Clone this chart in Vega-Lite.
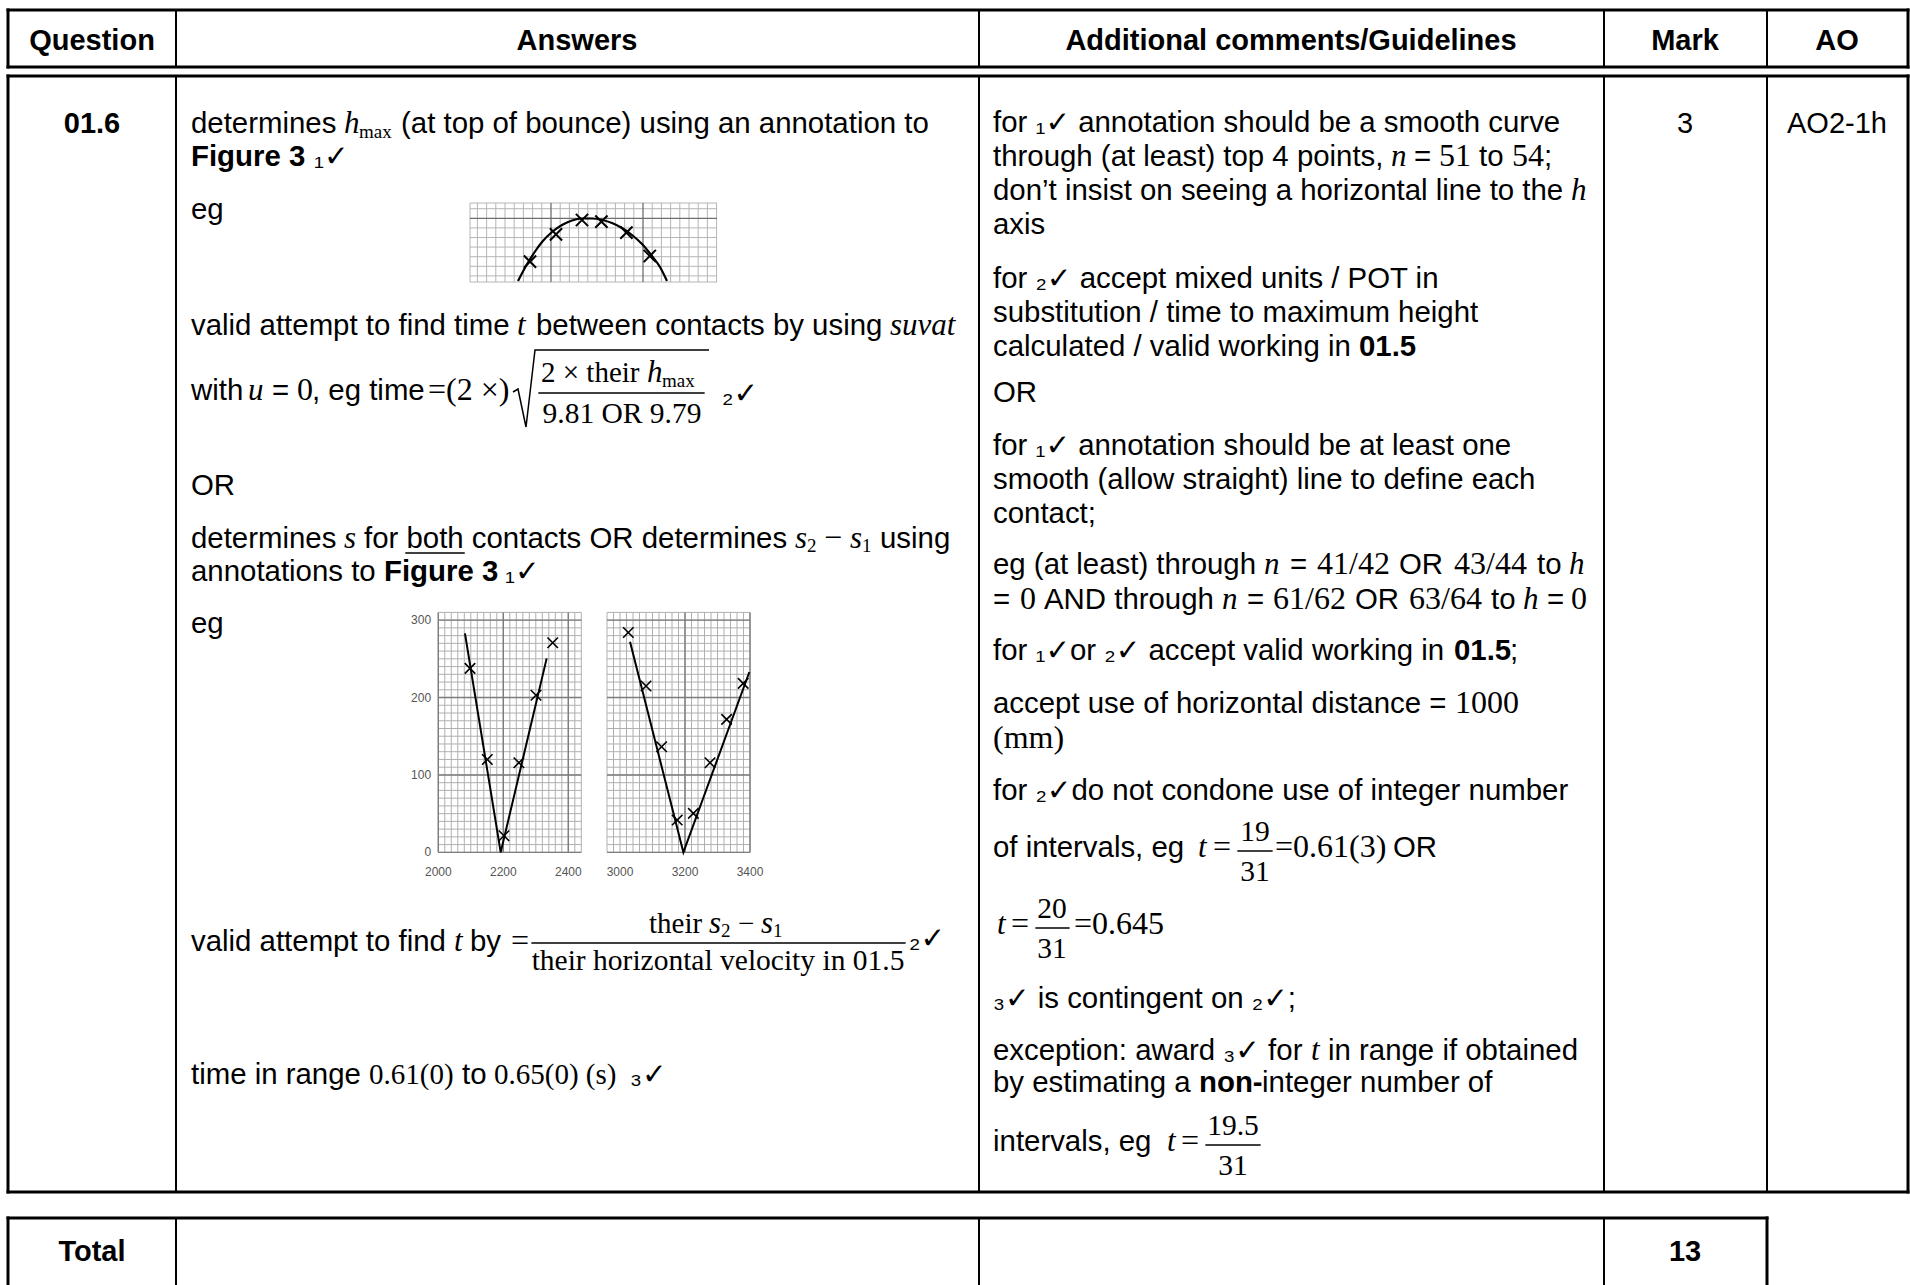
{
"$schema":"https://vega.github.io/schema/vega-lite/v6.json",
"width":1910,"height":1285,"autosize":{"type":"none"},"padding":0,"background":"white",
"config":{"view":{"stroke":null}},
"resolve":{"scale":{"x":"independent","y":"independent"}},
"datasets":{
"rl":[
{"x":8,"y":10,"x2":1908,"y2":10,"w":3},{"x":8,"y":67,"x2":1908,"y2":67,"w":3},{"x":8,"y":10,"x2":8,"y2":67,"w":3},{"x":1908,"y":10,"x2":1908,"y2":67,"w":3},
{"x":176,"y":10,"x2":176,"y2":67,"w":2},{"x":979,"y":10,"x2":979,"y2":67,"w":2},{"x":1604,"y":10,"x2":1604,"y2":67,"w":2},{"x":1767,"y":10,"x2":1767,"y2":67,"w":2},
{"x":8,"y":76,"x2":1908,"y2":76,"w":3},{"x":8,"y":1192,"x2":1908,"y2":1192,"w":3},{"x":8,"y":76,"x2":8,"y2":1192,"w":3},{"x":1908,"y":76,"x2":1908,"y2":1192,"w":3},
{"x":176,"y":76,"x2":176,"y2":1192,"w":2},{"x":979,"y":76,"x2":979,"y2":1192,"w":2},{"x":1604,"y":76,"x2":1604,"y2":1192,"w":2},{"x":1767,"y":76,"x2":1767,"y2":1192,"w":2},
{"x":8,"y":1218,"x2":1767,"y2":1218,"w":3},{"x":8,"y":1218,"x2":8,"y2":1290,"w":3},{"x":1767,"y":1218,"x2":1767,"y2":1290,"w":3},
{"x":176,"y":1218,"x2":176,"y2":1290,"w":2},{"x":979,"y":1218,"x2":979,"y2":1290,"w":2},{"x":1604,"y":1218,"x2":1604,"y2":1290,"w":2},
{"x":406,"y":553,"x2":464,"y2":553,"w":1.5},
{"x":539,"y":393,"x2":704,"y2":393,"w":1.3},
{"x":532,"y":943,"x2":905,"y2":943,"w":1.3},
{"x":1238,"y":851,"x2":1272,"y2":851,"w":1.3},
{"x":1036,"y":928,"x2":1069,"y2":928,"w":1.3},
{"x":1206,"y":1145,"x2":1260,"y2":1145,"w":1.3}
],
"txt":[
{"x":92,"y":50,"t":"Question","s":"bc"},
{"x":577,"y":50,"t":"Answers","s":"bc"},
{"x":1291,"y":50,"t":"Additional comments/Guidelines","s":"bc"},
{"x":1685,"y":50,"t":"Mark","s":"bc"},
{"x":1837,"y":50,"t":"AO","s":"bc"},
{"x":92,"y":133,"t":"01.6","s":"bc"},
{"x":1685,"y":133,"t":"3","s":"rc"},
{"x":1837,"y":133,"t":"AO2-1h","s":"rc"},
{"x":92,"y":1261,"t":"Total","s":"bc"},
{"x":1685,"y":1261,"t":"13","s":"bc"},
{"x":191,"y":133,"t":"determines","s":"r"},
{"x":344,"y":133,"t":"h","s":"i"},
{"x":359,"y":138,"t":"max","s":"ms"},
{"x":401,"y":133,"t":"(at top of bounce) using an annotation to","s":"r"},
{"x":191,"y":166,"t":"Figure 3","s":"b"},
{"x":314,"y":166,"t":"₁✓","s":"r"},
{"x":191,"y":219,"t":"eg","s":"r"},
{"x":191,"y":335,"t":"valid attempt to find time","s":"r"},
{"x":517,"y":335,"t":"t","s":"i"},
{"x":536,"y":335,"t":"between contacts by using","s":"r"},
{"x":890,"y":335,"t":"suvat","s":"i"},
{"x":191,"y":400,"t":"with","s":"r"},
{"x":248,"y":400,"t":"u","s":"i"},
{"x":272,"y":400,"t":"=","s":"r"},
{"x":297,"y":400,"t":"0","s":"m"},
{"x":312,"y":400,"t":", eg time","s":"r"},
{"x":428,"y":400,"t":"=","s":"m"},
{"x":446,"y":400,"t":"(2 ×)","s":"m"},
{"x":541,"y":382,"t":"2 × their","s":"mf"},
{"x":647,"y":382,"t":"h","s":"i"},
{"x":662,"y":387,"t":"max","s":"ms"},
{"x":622,"y":423,"t":"9.81 OR 9.79","s":"mc"},
{"x":722,"y":403,"t":"₂✓","s":"r"},
{"x":191,"y":495,"t":"OR","s":"r"},
{"x":191,"y":548,"t":"determines","s":"r"},
{"x":344,"y":548,"t":"s","s":"i"},
{"x":364,"y":548,"t":"for both contacts OR determines","s":"r"},
{"x":795,"y":548,"t":"s","s":"i"},
{"x":807,"y":552,"t":"2","s":"ms"},
{"x":824,"y":548,"t":"−","s":"m"},
{"x":850,"y":548,"t":"s","s":"i"},
{"x":862,"y":552,"t":"1","s":"ms"},
{"x":880,"y":548,"t":"using","s":"r"},
{"x":191,"y":581,"t":"annotations to","s":"r"},
{"x":384,"y":581,"t":"Figure 3","s":"b"},
{"x":505,"y":581,"t":"₁✓","s":"r"},
{"x":191,"y":633,"t":"eg","s":"r"},
{"x":191,"y":951,"t":"valid attempt to find","s":"r"},
{"x":454,"y":951,"t":"t","s":"i"},
{"x":470,"y":951,"t":"by","s":"r"},
{"x":511,"y":951,"t":"=","s":"m"},
{"x":649,"y":933,"t":"their","s":"mf"},
{"x":709,"y":933,"t":"s","s":"i"},
{"x":721,"y":937,"t":"2","s":"ms"},
{"x":738,"y":933,"t":"−","s":"mf"},
{"x":761,"y":933,"t":"s","s":"i"},
{"x":773,"y":937,"t":"1","s":"ms"},
{"x":718,"y":970,"t":"their horizontal velocity in 01.5","s":"mc"},
{"x":909,"y":948,"t":"₂✓","s":"r"},
{"x":191,"y":1084,"t":"time in range","s":"r"},
{"x":369,"y":1084,"t":"0.61(0)","s":"mf"},
{"x":462,"y":1084,"t":"to","s":"r"},
{"x":494,"y":1084,"t":"0.65(0) (s)","s":"mf"},
{"x":630,"y":1084,"t":"₃✓","s":"r"},
{"x":993,"y":132,"t":"for ₁✓ annotation should be a smooth curve","s":"r"},
{"x":993,"y":166,"t":"through (at least) top 4 points,","s":"r"},
{"x":1391,"y":166,"t":"n","s":"i"},
{"x":1414,"y":166,"t":"=","s":"r"},
{"x":1439,"y":166,"t":"51","s":"m"},
{"x":1479,"y":166,"t":"to","s":"r"},
{"x":1512,"y":166,"t":"54","s":"m"},
{"x":1544,"y":166,"t":";","s":"r"},
{"x":993,"y":200,"t":"don’t insist on seeing a horizontal line to the","s":"r"},
{"x":1571,"y":200,"t":"h","s":"i"},
{"x":993,"y":234,"t":"axis","s":"r"},
{"x":993,"y":288,"t":"for ₂✓ accept mixed units / POT in","s":"r"},
{"x":993,"y":322,"t":"substitution / time to maximum height","s":"r"},
{"x":993,"y":356,"t":"calculated / valid working in","s":"r"},
{"x":1359,"y":356,"t":"01.5","s":"b"},
{"x":993,"y":402,"t":"OR","s":"r"},
{"x":993,"y":455,"t":"for ₁✓ annotation should be at least one","s":"r"},
{"x":993,"y":489,"t":"smooth (allow straight) line to define each","s":"r"},
{"x":993,"y":523,"t":"contact;","s":"r"},
{"x":993,"y":574,"t":"eg (at least) through","s":"r"},
{"x":1264,"y":574,"t":"n","s":"i"},
{"x":1290,"y":574,"t":"=","s":"r"},
{"x":1317,"y":574,"t":"41/42","s":"m"},
{"x":1399,"y":574,"t":"OR","s":"r"},
{"x":1454,"y":574,"t":"43/44","s":"m"},
{"x":1537,"y":574,"t":"to","s":"r"},
{"x":1569,"y":574,"t":"h","s":"i"},
{"x":993,"y":609,"t":"=","s":"r"},
{"x":1020,"y":609,"t":"0","s":"m"},
{"x":1044,"y":609,"t":"AND through","s":"r"},
{"x":1222,"y":609,"t":"n","s":"i"},
{"x":1247,"y":609,"t":"=","s":"r"},
{"x":1273,"y":609,"t":"61/62","s":"m"},
{"x":1355,"y":609,"t":"OR","s":"r"},
{"x":1409,"y":609,"t":"63/64","s":"m"},
{"x":1491,"y":609,"t":"to","s":"r"},
{"x":1523,"y":609,"t":"h","s":"i"},
{"x":1547,"y":609,"t":"=","s":"r"},
{"x":1571,"y":609,"t":"0","s":"m"},
{"x":993,"y":660,"t":"for ₁✓or ₂✓ accept valid working in","s":"r"},
{"x":1454,"y":660,"t":"01.5","s":"b"},
{"x":1510,"y":660,"t":";","s":"r"},
{"x":993,"y":713,"t":"accept use of horizontal distance =","s":"r"},
{"x":1455,"y":713,"t":"1000","s":"m"},
{"x":993,"y":748,"t":"(mm)","s":"m"},
{"x":993,"y":800,"t":"for ₂✓do not condone use of integer number","s":"r"},
{"x":993,"y":857,"t":"of intervals, eg","s":"r"},
{"x":1198,"y":857,"t":"t","s":"i"},
{"x":1213,"y":857,"t":"=","s":"m"},
{"x":1255,"y":841,"t":"19","s":"mc"},
{"x":1255,"y":881,"t":"31","s":"mc"},
{"x":1275,"y":857,"t":"=0.61(3)","s":"m"},
{"x":1393,"y":857,"t":"OR","s":"r"},
{"x":997,"y":934,"t":"t","s":"i"},
{"x":1011,"y":934,"t":"=","s":"m"},
{"x":1052,"y":918,"t":"20","s":"mc"},
{"x":1052,"y":958,"t":"31","s":"mc"},
{"x":1074,"y":934,"t":"=0.645","s":"m"},
{"x":993,"y":1008,"t":"₃✓ is contingent on ₂✓;","s":"r"},
{"x":993,"y":1060,"t":"exception: award ₃✓ for","s":"r"},
{"x":1311,"y":1060,"t":"t","s":"i"},
{"x":1328,"y":1060,"t":"in range if obtained","s":"r"},
{"x":993,"y":1092,"t":"by estimating a","s":"r"},
{"x":1199,"y":1092,"t":"non-","s":"b"},
{"x":1262,"y":1092,"t":"integer number of","s":"r"},
{"x":993,"y":1151,"t":"intervals, eg","s":"r"},
{"x":1167,"y":1151,"t":"t","s":"i"},
{"x":1181,"y":1151,"t":"=","s":"m"},
{"x":1233,"y":1135,"t":"19.5","s":"mc"},
{"x":1233,"y":1175,"t":"31","s":"mc"}
],
"rad":[{"x":513,"y":392},{"x":518,"y":389},{"x":526,"y":427},{"x":535,"y":350},{"x":709,"y":350}],
"f1curve":[{"x":518,"y":281},{"x":526,"y":266},{"x":534,"y":253},{"x":542,"y":242},{"x":552,"y":232},{"x":562,"y":225},{"x":572,"y":220.5},{"x":582,"y":218.5},{"x":592,"y":218.5},{"x":602,"y":220},{"x":612,"y":223},{"x":622,"y":228},{"x":632,"y":235},{"x":642,"y":244},{"x":652,"y":256},{"x":660,"y":267},{"x":667,"y":281}],
"f1pts":[{"x":530,"y":261.7},{"x":556,"y":234.3},{"x":582,"y":220},{"x":601.4,"y":221.7},{"x":626.4,"y":232.7},{"x":649.8,"y":256}],
"p1line":[{"x":2082,"y":283},{"x":2192,"y":0},{"x":2333.5,"y":250.6}],
"p1pts":[{"x":2097.5,"y":237.7},{"x":2150.8,"y":120},{"x":2202,"y":21.4},{"x":2248,"y":115.8},{"x":2300.6,"y":203},{"x":2352,"y":270.8}],
"p2line":[{"x":3030.8,"y":272},{"x":3195,"y":0},{"x":3398,"y":233}],
"p2pts":[{"x":3025.6,"y":284},{"x":3080,"y":214.9},{"x":3128,"y":136.4},{"x":3176,"y":41.7},{"x":3225.6,"y":50.4},{"x":3277,"y":115.8},{"x":3328,"y":171.8},{"x":3379,"y":218.3}],
"hgrid":[0,10,20,30,40,50,60,70,80,90,100,110,120,130,140,150,160,170,180,190,200,210,220,230,240,250,260,270,280,290,300,310],
"hmaj":[0,100,200,300]
},
"layer":[
{"data":{"values":[470,477.4,486.6,495.8,505,514.2,523.4,532.6,541.8,560.2,569.4,578.6,587.8,597,606.2,615.4,624.6,633.8,652.2,661.4,670.6,679.8,689,698.2,707.4,716.6]},
 "mark":{"type":"rule","color":"#b5b5b5","strokeWidth":1},
 "encoding":{"x":{"field":"data","type":"quantitative","scale":{"domain":[0,1910],"nice":false,"zero":false},"axis":null},
  "y":{"datum":203,"type":"quantitative","scale":{"domain":[0,1285],"nice":false,"zero":false,"reverse":true},"axis":null},"y2":{"datum":282}}},
{"data":{"values":[203,208.7,227.9,237.5,247.1,256.7,266.3,275.9,282]},
 "mark":{"type":"rule","color":"#b5b5b5","strokeWidth":1},
 "encoding":{"y":{"field":"data","type":"quantitative","scale":{"domain":[0,1285],"nice":false,"zero":false,"reverse":true},"axis":null},
  "x":{"datum":470,"type":"quantitative","scale":{"domain":[0,1910],"nice":false,"zero":false},"axis":null},"x2":{"datum":717}}},
{"data":{"values":[551,643]},
 "mark":{"type":"rule","color":"#6f6f6f","strokeWidth":1.3},
 "encoding":{"x":{"field":"data","type":"quantitative","scale":{"domain":[0,1910],"nice":false,"zero":false},"axis":null},
  "y":{"datum":203,"type":"quantitative","scale":{"domain":[0,1285],"nice":false,"zero":false,"reverse":true},"axis":null},"y2":{"datum":282}}},
{"data":{"values":[218.3]},
 "mark":{"type":"rule","color":"#6f6f6f","strokeWidth":1.3},
 "encoding":{"y":{"field":"data","type":"quantitative","scale":{"domain":[0,1285],"nice":false,"zero":false,"reverse":true},"axis":null},
  "x":{"datum":470,"type":"quantitative","scale":{"domain":[0,1910],"nice":false,"zero":false},"axis":null},"x2":{"datum":717}}},
{"data":{"name":"f1curve"},
 "mark":{"type":"line","color":"black","strokeWidth":2.2,"interpolate":"monotone"},
 "encoding":{"x":{"field":"x","type":"quantitative","scale":{"domain":[0,1910],"nice":false,"zero":false},"axis":null},
  "y":{"field":"y","type":"quantitative","scale":{"domain":[0,1285],"nice":false,"zero":false,"reverse":true},"axis":null}}},
{"data":{"name":"f1pts"},
 "mark":{"type":"point","shape":"M-1,-1L1,1M-1,1L1,-1","filled":false,"color":"black","strokeWidth":2,"size":150,"opacity":1},
 "encoding":{"x":{"field":"x","type":"quantitative","scale":{"domain":[0,1910],"nice":false,"zero":false},"axis":null},
  "y":{"field":"y","type":"quantitative","scale":{"domain":[0,1285],"nice":false,"zero":false,"reverse":true},"axis":null}}},

{"data":{"values":[2000,2020,2040,2060,2080,2100,2120,2140,2160,2180,2200,2220,2240,2260,2280,2300,2320,2340,2360,2380,2400,2420,2440]},
 "mark":{"type":"rule","color":"#b0b0b0","strokeWidth":1},
 "encoding":{"x":{"field":"data","type":"quantitative","scale":{"domain":[651.4,6528.3],"nice":false,"zero":false},"axis":null},
  "y":{"datum":0,"type":"quantitative","scale":{"domain":[-559,1101.2],"nice":false,"zero":false},"axis":null},"y2":{"datum":310}}},
{"data":{"name":"hgrid"},
 "mark":{"type":"rule","color":"#b0b0b0","strokeWidth":1},
 "encoding":{"y":{"field":"data","type":"quantitative","scale":{"domain":[-559,1101.2],"nice":false,"zero":false},"axis":null},
  "x":{"datum":2000,"type":"quantitative","scale":{"domain":[651.4,6528.3],"nice":false,"zero":false},"axis":null},"x2":{"datum":2440}}},
{"data":{"values":[2000,2200,2400]},
 "mark":{"type":"rule","color":"#7d7d7d","strokeWidth":1.4},
 "encoding":{"x":{"field":"data","type":"quantitative","scale":{"domain":[651.4,6528.3],"nice":false,"zero":false},"axis":null},
  "y":{"datum":0,"type":"quantitative","scale":{"domain":[-559,1101.2],"nice":false,"zero":false},"axis":null},"y2":{"datum":310}}},
{"data":{"name":"hmaj"},
 "mark":{"type":"rule","color":"#7d7d7d","strokeWidth":1.4},
 "encoding":{"y":{"field":"data","type":"quantitative","scale":{"domain":[-559,1101.2],"nice":false,"zero":false},"axis":null},
  "x":{"datum":2000,"type":"quantitative","scale":{"domain":[651.4,6528.3],"nice":false,"zero":false},"axis":null},"x2":{"datum":2440}}},
{"data":{"name":"p1line"},
 "mark":{"type":"line","color":"black","strokeWidth":2},
 "encoding":{"x":{"field":"x","type":"quantitative","scale":{"domain":[651.4,6528.3],"nice":false,"zero":false},"axis":null},
  "y":{"field":"y","type":"quantitative","scale":{"domain":[-559,1101.2],"nice":false,"zero":false},"axis":null}}},
{"data":{"name":"p1pts"},
 "mark":{"type":"point","shape":"M-1,-1L1,1M-1,1L1,-1","filled":false,"color":"black","strokeWidth":1.6,"size":110,"opacity":1},
 "encoding":{"x":{"field":"x","type":"quantitative","scale":{"domain":[651.4,6528.3],"nice":false,"zero":false},"axis":null},
  "y":{"field":"y","type":"quantitative","scale":{"domain":[-559,1101.2],"nice":false,"zero":false},"axis":null}}},
{"data":{"values":[{"x":1978,"y":300,"t":"300"},{"x":1978,"y":200,"t":"200"},{"x":1978,"y":100,"t":"100"},{"x":1978,"y":0,"t":"0"}]},
 "mark":{"type":"text","align":"right","baseline":"middle","font":"Liberation Sans","fontSize":12,"color":"#555"},
 "encoding":{"x":{"field":"x","type":"quantitative","scale":{"domain":[651.4,6528.3],"nice":false,"zero":false},"axis":null},
  "y":{"field":"y","type":"quantitative","scale":{"domain":[-559,1101.2],"nice":false,"zero":false},"axis":null},"text":{"field":"t"}}},
{"data":{"values":[{"x":2000,"y":-25,"t":"2000"},{"x":2200,"y":-25,"t":"2200"},{"x":2400,"y":-25,"t":"2400"}]},
 "mark":{"type":"text","align":"center","baseline":"middle","font":"Liberation Sans","fontSize":12,"color":"#555"},
 "encoding":{"x":{"field":"x","type":"quantitative","scale":{"domain":[651.4,6528.3],"nice":false,"zero":false},"axis":null},
  "y":{"field":"y","type":"quantitative","scale":{"domain":[-559,1101.2],"nice":false,"zero":false},"axis":null},"text":{"field":"t"}}},

{"data":{"values":[2960,2980,3000,3020,3040,3060,3080,3100,3120,3140,3160,3180,3200,3220,3240,3260,3280,3300,3320,3340,3360,3380,3400]},
 "mark":{"type":"rule","color":"#b0b0b0","strokeWidth":1},
 "encoding":{"x":{"field":"data","type":"quantitative","scale":{"domain":[1092.3,6969.2],"nice":false,"zero":false},"axis":null},
  "y":{"datum":0,"type":"quantitative","scale":{"domain":[-559,1101.2],"nice":false,"zero":false},"axis":null},"y2":{"datum":310}}},
{"data":{"name":"hgrid"},
 "mark":{"type":"rule","color":"#b0b0b0","strokeWidth":1},
 "encoding":{"y":{"field":"data","type":"quantitative","scale":{"domain":[-559,1101.2],"nice":false,"zero":false},"axis":null},
  "x":{"datum":2960,"type":"quantitative","scale":{"domain":[1092.3,6969.2],"nice":false,"zero":false},"axis":null},"x2":{"datum":3400}}},
{"data":{"values":[3200,3400]},
 "mark":{"type":"rule","color":"#7d7d7d","strokeWidth":1.4},
 "encoding":{"x":{"field":"data","type":"quantitative","scale":{"domain":[1092.3,6969.2],"nice":false,"zero":false},"axis":null},
  "y":{"datum":0,"type":"quantitative","scale":{"domain":[-559,1101.2],"nice":false,"zero":false},"axis":null},"y2":{"datum":310}}},
{"data":{"name":"hmaj"},
 "mark":{"type":"rule","color":"#7d7d7d","strokeWidth":1.4},
 "encoding":{"y":{"field":"data","type":"quantitative","scale":{"domain":[-559,1101.2],"nice":false,"zero":false},"axis":null},
  "x":{"datum":2960,"type":"quantitative","scale":{"domain":[1092.3,6969.2],"nice":false,"zero":false},"axis":null},"x2":{"datum":3400}}},
{"data":{"name":"p2line"},
 "mark":{"type":"line","color":"black","strokeWidth":2},
 "encoding":{"x":{"field":"x","type":"quantitative","scale":{"domain":[1092.3,6969.2],"nice":false,"zero":false},"axis":null},
  "y":{"field":"y","type":"quantitative","scale":{"domain":[-559,1101.2],"nice":false,"zero":false},"axis":null}}},
{"data":{"name":"p2pts"},
 "mark":{"type":"point","shape":"M-1,-1L1,1M-1,1L1,-1","filled":false,"color":"black","strokeWidth":1.6,"size":110,"opacity":1},
 "encoding":{"x":{"field":"x","type":"quantitative","scale":{"domain":[1092.3,6969.2],"nice":false,"zero":false},"axis":null},
  "y":{"field":"y","type":"quantitative","scale":{"domain":[-559,1101.2],"nice":false,"zero":false},"axis":null}}},
{"data":{"values":[{"x":3000,"y":-25,"t":"3000"},{"x":3200,"y":-25,"t":"3200"},{"x":3400,"y":-25,"t":"3400"}]},
 "mark":{"type":"text","align":"center","baseline":"middle","font":"Liberation Sans","fontSize":12,"color":"#555"},
 "encoding":{"x":{"field":"x","type":"quantitative","scale":{"domain":[1092.3,6969.2],"nice":false,"zero":false},"axis":null},
  "y":{"field":"y","type":"quantitative","scale":{"domain":[-559,1101.2],"nice":false,"zero":false},"axis":null},"text":{"field":"t"}}},

{"data":{"name":"rl"},
 "mark":{"type":"rule","color":"black","strokeCap":"square"},
 "encoding":{"x":{"field":"x","type":"quantitative","scale":{"domain":[0,1910],"nice":false,"zero":false},"axis":null},"x2":{"field":"x2"},
  "y":{"field":"y","type":"quantitative","scale":{"domain":[0,1285],"nice":false,"zero":false,"reverse":true},"axis":null},"y2":{"field":"y2"},
  "strokeWidth":{"field":"w","type":"quantitative","scale":null}}},
{"data":{"name":"rad"},
 "mark":{"type":"line","color":"black","strokeWidth":1.5},
 "encoding":{"x":{"field":"x","type":"quantitative","scale":{"domain":[0,1910],"nice":false,"zero":false},"axis":null},
  "y":{"field":"y","type":"quantitative","scale":{"domain":[0,1285],"nice":false,"zero":false,"reverse":true},"axis":null}}},
{"data":{"name":"txt"},"transform":[{"filter":"datum.s==='r'"}],
 "mark":{"type":"text","align":"left","baseline":"alphabetic","font":"Liberation Sans, DejaVu Sans, sans-serif","fontSize":29.4,"color":"black"},
 "encoding":{"x":{"field":"x","type":"quantitative","scale":{"domain":[0,1910],"nice":false,"zero":false},"axis":null},
  "y":{"field":"y","type":"quantitative","scale":{"domain":[0,1285],"nice":false,"zero":false,"reverse":true},"axis":null},"text":{"field":"t"}}},
{"data":{"name":"txt"},"transform":[{"filter":"datum.s==='b'"}],
 "mark":{"type":"text","align":"left","baseline":"alphabetic","font":"Liberation Sans, DejaVu Sans, sans-serif","fontSize":29.4,"fontWeight":"bold","color":"black"},
 "encoding":{"x":{"field":"x","type":"quantitative","scale":{"domain":[0,1910],"nice":false,"zero":false},"axis":null},
  "y":{"field":"y","type":"quantitative","scale":{"domain":[0,1285],"nice":false,"zero":false,"reverse":true},"axis":null},"text":{"field":"t"}}},
{"data":{"name":"txt"},"transform":[{"filter":"datum.s==='bc'"}],
 "mark":{"type":"text","align":"center","baseline":"alphabetic","font":"Liberation Sans, DejaVu Sans, sans-serif","fontSize":29,"fontWeight":"bold","color":"black"},
 "encoding":{"x":{"field":"x","type":"quantitative","scale":{"domain":[0,1910],"nice":false,"zero":false},"axis":null},
  "y":{"field":"y","type":"quantitative","scale":{"domain":[0,1285],"nice":false,"zero":false,"reverse":true},"axis":null},"text":{"field":"t"}}},
{"data":{"name":"txt"},"transform":[{"filter":"datum.s==='rc'"}],
 "mark":{"type":"text","align":"center","baseline":"alphabetic","font":"Liberation Sans, DejaVu Sans, sans-serif","fontSize":29,"color":"black"},
 "encoding":{"x":{"field":"x","type":"quantitative","scale":{"domain":[0,1910],"nice":false,"zero":false},"axis":null},
  "y":{"field":"y","type":"quantitative","scale":{"domain":[0,1285],"nice":false,"zero":false,"reverse":true},"axis":null},"text":{"field":"t"}}},
{"data":{"name":"txt"},"transform":[{"filter":"datum.s==='i'"}],
 "mark":{"type":"text","align":"left","baseline":"alphabetic","font":"Liberation Serif, DejaVu Serif, serif","fontSize":31,"fontStyle":"italic","color":"black"},
 "encoding":{"x":{"field":"x","type":"quantitative","scale":{"domain":[0,1910],"nice":false,"zero":false},"axis":null},
  "y":{"field":"y","type":"quantitative","scale":{"domain":[0,1285],"nice":false,"zero":false,"reverse":true},"axis":null},"text":{"field":"t"}}},
{"data":{"name":"txt"},"transform":[{"filter":"datum.s==='m'"}],
 "mark":{"type":"text","align":"left","baseline":"alphabetic","font":"Liberation Serif, DejaVu Serif, serif","fontSize":32,"color":"black"},
 "encoding":{"x":{"field":"x","type":"quantitative","scale":{"domain":[0,1910],"nice":false,"zero":false},"axis":null},
  "y":{"field":"y","type":"quantitative","scale":{"domain":[0,1285],"nice":false,"zero":false,"reverse":true},"axis":null},"text":{"field":"t"}}},
{"data":{"name":"txt"},"transform":[{"filter":"datum.s==='mf'"}],
 "mark":{"type":"text","align":"left","baseline":"alphabetic","font":"Liberation Serif, DejaVu Serif, serif","fontSize":29,"color":"black"},
 "encoding":{"x":{"field":"x","type":"quantitative","scale":{"domain":[0,1910],"nice":false,"zero":false},"axis":null},
  "y":{"field":"y","type":"quantitative","scale":{"domain":[0,1285],"nice":false,"zero":false,"reverse":true},"axis":null},"text":{"field":"t"}}},
{"data":{"name":"txt"},"transform":[{"filter":"datum.s==='mc'"}],
 "mark":{"type":"text","align":"center","baseline":"alphabetic","font":"Liberation Serif, DejaVu Serif, serif","fontSize":29.5,"color":"black"},
 "encoding":{"x":{"field":"x","type":"quantitative","scale":{"domain":[0,1910],"nice":false,"zero":false},"axis":null},
  "y":{"field":"y","type":"quantitative","scale":{"domain":[0,1285],"nice":false,"zero":false,"reverse":true},"axis":null},"text":{"field":"t"}}},
{"data":{"name":"txt"},"transform":[{"filter":"datum.s==='ms'"}],
 "mark":{"type":"text","align":"left","baseline":"alphabetic","font":"Liberation Serif, DejaVu Serif, serif","fontSize":19,"color":"black"},
 "encoding":{"x":{"field":"x","type":"quantitative","scale":{"domain":[0,1910],"nice":false,"zero":false},"axis":null},
  "y":{"field":"y","type":"quantitative","scale":{"domain":[0,1285],"nice":false,"zero":false,"reverse":true},"axis":null},"text":{"field":"t"}}}
]
}
